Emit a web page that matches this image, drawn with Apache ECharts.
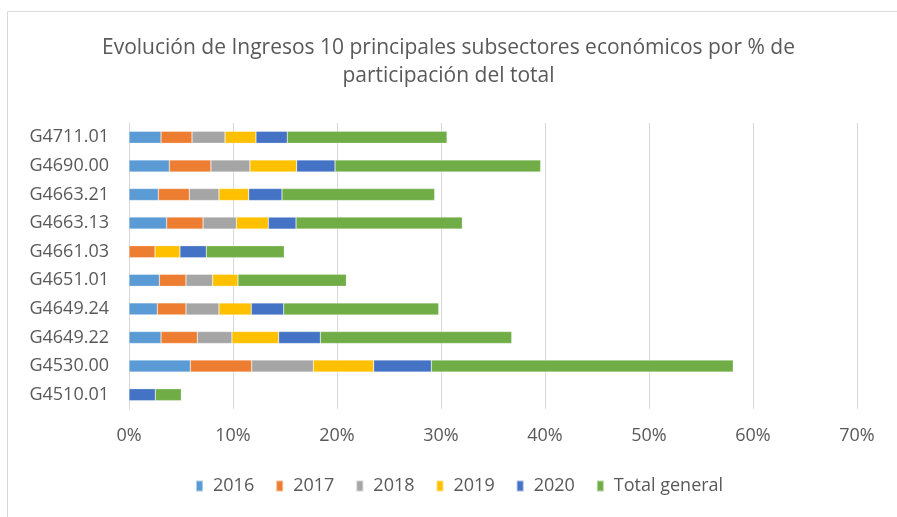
<!DOCTYPE html>
<html>
<head>
<meta charset="utf-8">
<script src="https://cdn.jsdelivr.net/npm/echarts@6/dist/echarts.min.js"></script>
<style>
  html, body { margin: 0; padding: 0; background: #fff; }
  #chart { width: 897px; height: 517px; }
</style>
</head>
<body>
<div id="chart"></div>
<script>
// categories, bottom to top
const categories = ['G4510.01', 'G4530.00', 'G4649.22', 'G4649.24', 'G4651.01',
  'G4661.03', 'G4663.13', 'G4663.21', 'G4690.00', 'G4711.01'];

// % de participacion por año (0 = sin dato)
const s2016 = [0, 5.9, 3.08, 2.72, 2.92, 0, 3.62, 2.82, 3.88, 3.08];
const s2017 = [0, 5.9, 3.49, 2.76, 2.56, 2.5, 3.5, 2.98, 4.0, 2.98];
const s2018 = [0, 5.92, 3.33, 3.17, 2.56, 0, 3.2, 2.85, 3.75, 3.17];
const s2019 = [0, 5.81, 4.49, 3.11, 2.44, 2.4, 3.08, 2.86, 4.49, 2.98];
const s2020 = [2.53, 5.54, 4.01, 3.11, 0, 2.53, 2.66, 3.2, 3.69, 3.01];
const totalGeneral = [2.5, 29.03, 18.4, 14.91, 10.42, 7.5, 15.99, 14.68, 19.77, 15.36];

const xTicks = [0, 10, 20, 30, 40, 50, 60, 70];

const seriesNames = ['2016', '2017', '2018', '2019', '2020', 'Total general'];
const seriesData = [s2016, s2017, s2018, s2019, s2020, totalGeneral];
const colors = ['#5B9BD5', '#ED7D31', '#A5A5A5', '#FFC000', '#4472C4', '#70AD47'];

const font = '"Open Sans", sans-serif';
const textColor = '#595959';

const chart = echarts.init(document.getElementById('chart'));

const option = {
  animation: false,
  color: colors,
  title: {
    text: 'Evolución de Ingresos 10 principales subsectores económicos por % de\nparticipación del total',
    left: 'center',
    top: 29,
    textStyle: {
      fontFamily: font,
      fontSize: 21,
      fontWeight: 'normal',
      color: textColor,
      lineHeight: 28
    }
  },
  graphic: [{
    type: 'rect',
    shape: { x: 7.5, y: 11.5, width: 1000, height: 1000 },
    style: { fill: 'none', stroke: '#D9D9D9', lineWidth: 1 },
    silent: true
  }],
  legend: {
    bottom: 17,
    left: 190,
    itemWidth: 7,
    itemHeight: 11,
    itemGap: 21,
    icon: 'rect',
    textStyle: { fontFamily: font, fontSize: 18, color: textColor, padding: [0, 0, 0, 5] },
    data: seriesNames
  },
  grid: {
    left: 129,
    right: 40,
    top: 123,
    bottom: 108
  },
  xAxis: {
    type: 'value',
    min: xTicks[0],
    max: xTicks[xTicks.length - 1],
    interval: 10,
    axisLine: { show: false },
    axisTick: { show: false },
    axisLabel: {
      margin: 18,
      fontFamily: font,
      fontSize: 18,
      color: textColor,
      formatter: '{value}%'
    },
    splitLine: { lineStyle: { color: '#D9D9D9', width: 1 } }
  },
  yAxis: {
    type: 'category',
    data: categories,
    axisLine: { show: true, lineStyle: { color: '#D9D9D9' } },
    axisTick: { show: false },
    axisLabel: {
      margin: 20,
      fontFamily: font,
      fontSize: 18,
      color: textColor
    }
  },
  series: seriesNames.map((name, i) => ({
    name: name,
    type: 'bar',
    stack: 'total',
    barWidth: 12,
    data: seriesData[i].map(v => (v === 0 ? null : v)),
    itemStyle: { borderColor: 'rgba(255,255,255,0.5)', borderWidth: 0.5 }
  }))
};

chart.setOption(option);
</script>
</body>
</html>
